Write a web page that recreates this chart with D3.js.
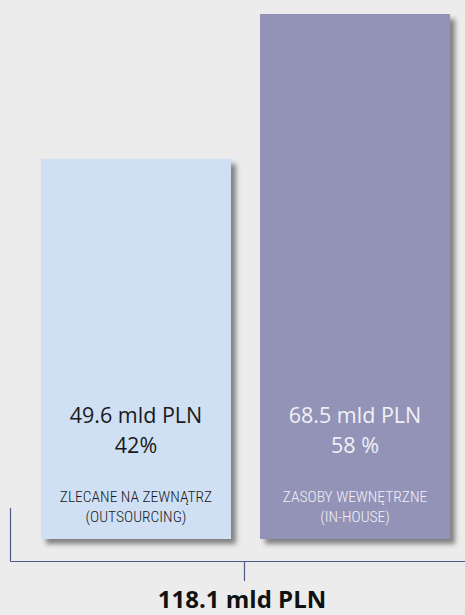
<!DOCTYPE html>
<html>
<head>
<meta charset="utf-8">
<script src="https://cdn.jsdelivr.net/npm/d3@7"></script>
<style>
  html, body { margin: 0; padding: 0; background: #ececec; }
  svg { display: block; }
</style>
</head>
<body>
<div id="chart"></div>
<script>
// Data
const categories = ["outsourcing", "inhouse"];
const values = [49.6, 68.5];
const valueLabels = ["49.6 mld PLN", "68.5 mld PLN"];
const shareLabels = ["42%", "58 %"];
const nameLine1 = ["ZLECANE NA ZEWNĄTRZ", "ZASOBY WEWNĘTRZNE"];
const nameLine2 = ["(OUTSOURCING)", "(IN-HOUSE)"];
const totalLabel = "118.1 mld PLN";

const barColors = ["#d0e0f4", "#9393b7"];
const textColors = ["#1a1a1a", "#f0f0f6"];

const width = 465, height = 615;
const baseY = 539;

const svg = d3.select("#chart")
  .append("svg")
  .attr("width", width)
  .attr("height", height);

svg.append("rect")
  .attr("width", width)
  .attr("height", height)
  .attr("fill", "#ececec");

// drop shadow for the bars
const defs = svg.append("defs");
defs.append("filter")
  .attr("id", "shadow")
  .attr("x", "-10%").attr("y", "-10%")
  .attr("width", "130%").attr("height", "130%")
  .append("feDropShadow")
    .attr("dx", 5)
    .attr("dy", 5)
    .attr("stdDeviation", 2.5)
    .attr("flood-color", "#000")
    .attr("flood-opacity", 0.45);

// scales
const x = d3.scaleBand()
  .domain(categories)
  .range([41, 450])
  .paddingInner(29 / 219)
  .paddingOuter(0);

const y = d3.scaleLinear()
  .domain([0, d3.max(values)])
  .range([baseY, 14]);

const rows = categories.map((c, i) => ({
  key: c,
  value: values[i],
  valueLabel: valueLabels[i],
  share: shareLabels[i],
  line1: nameLine1[i],
  line2: nameLine2[i],
  fill: barColors[i],
  text: textColors[i]
}));

// bars
svg.append("g")
  .selectAll("rect")
  .data(rows)
  .join("rect")
    .attr("x", d => x(d.key))
    .attr("y", d => y(d.value))
    .attr("width", x.bandwidth())
    .attr("height", d => y(0) - y(d.value))
    .attr("fill", d => d.fill)
    .attr("filter", "url(#shadow)");

// labels inside the bars
const labels = svg.append("g")
  .selectAll("g")
  .data(rows)
  .join("g")
    .attr("transform", d => `translate(${x(d.key) + x.bandwidth() / 2},0)`)
    .attr("fill", d => d.text)
    .attr("text-anchor", "middle");

labels.append("text")
  .attr("y", baseY - 116)
  .style("font-family", "'Open Sans', sans-serif")
  .style("font-size", "21.5px")
  .text(d => d.valueLabel);

labels.append("text")
  .attr("y", baseY - 86)
  .style("font-family", "'Open Sans', sans-serif")
  .style("font-size", "21.5px")
  .text(d => d.share);

labels.append("text")
  .attr("y", baseY - 37)
  .style("font-family", "'Roboto Condensed', sans-serif")
  .style("font-weight", 300)
  .style("font-size", "15.5px")
  .text(d => d.line1);

labels.append("text")
  .attr("y", baseY - 17)
  .style("font-family", "'Roboto Condensed', sans-serif")
  .style("font-weight", 300)
  .style("font-size", "15.5px")
  .text(d => d.line2);

// bracket summing both bars
const lineColor = "#4d5a8c";
const bracket = svg.append("g")
  .attr("stroke", lineColor)
  .attr("stroke-width", 1.2)
  .attr("fill", "none");

bracket.append("line")
  .attr("x1", 10.5).attr("x2", 10.5)
  .attr("y1", 508).attr("y2", 561.5);

bracket.append("line")
  .attr("x1", 10.5).attr("x2", width)
  .attr("y1", 561.5).attr("y2", 561.5);

bracket.append("line")
  .attr("x1", 244.5).attr("x2", 244.5)
  .attr("y1", 561.5).attr("y2", 581);

svg.append("text")
  .attr("x", 242)
  .attr("y", 608)
  .attr("text-anchor", "middle")
  .attr("fill", "#111")
  .style("font-family", "'Open Sans', sans-serif")
  .style("font-weight", "bold")
  .style("font-size", "24px")
  .text(totalLabel);
</script>
</body>
</html>
